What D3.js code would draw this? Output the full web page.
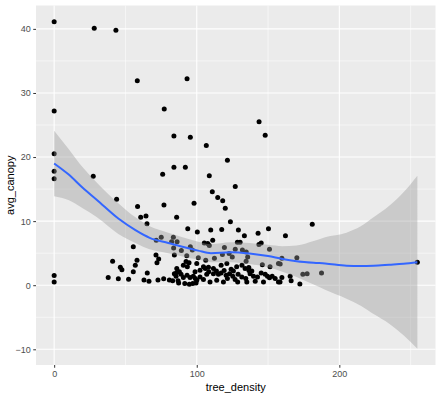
<!DOCTYPE html>
<html>
<head>
<meta charset="utf-8">
<script src="https://cdn.jsdelivr.net/npm/d3@7"></script>
<style>
  body { margin: 0; background: #fff; }
  text { font-family: "Liberation Sans", Arial, sans-serif; }
</style>
</head>
<body>
<svg id="chart" width="441" height="399"></svg>
<script>
// tree_density / avg_canopy points
var treeDensity = [
  0, 28.1, 43.3, 58.3, 0, 0, 0, 0, 27.4, 43.8, 0, 0,
  93.2, 77.2, 84, 95.5, 106.7, 143.7, 148,
  121.5, 76.1, 84, 92, 108.8, 127, 110.9, 114.7, 118.2, 77, 98.1, 120, 58.5, 60.7, 64.4, 65.1,
  85.9, 123.6, 150.3, 93.7, 100.4, 109.8, 117.5, 129.2, 162.2, 111.2, 133.4, 128.5, 130.4, 181, 254.7, 143,
  75.1, 71.6, 83.6, 82.4, 86.2, 83.8, 84.3, 55.5, 71.4, 73.3, 72.1,
  37.9, 41, 45, 46.4, 47.5, 52.2, 55.5, 56.9, 58.1, 63, 65.3, 66.5, 72.8, 76.8, 80.8, 83.1, 84.3, 86, 87.8, 86.9,
  159.7, 158.5, 170.2, 165.5, 166.2, 174.4, 177.4, 187.5, 172.3, 158.4,
  89.2, 95.5, 96.9, 105.3, 107.7, 108.8, 119.4, 122.7, 112.4, 106.3, 101.1, 93, 118,
  145.2, 143.6, 151, 127, 132, 134.7, 135.7, 134.6, 124.9, 146, 151.4, 157.3, 131.7, 136.6,
  89, 85.5, 90.6, 93.2, 95.3, 97.6, 99, 100, 102.3, 104.7, 107, 108.4, 106, 104.7, 108.2, 111.7, 113.8,
  115.2, 117.1, 119.2, 120.6, 123, 125.3, 125.7, 124.1, 126.9, 129, 131.6, 134.4, 135.1, 137.4, 138.6,
  136.5, 139.8, 142.6, 145.2, 148, 149.6, 151, 152.9, 155, 157.3, 159.7, 87.3, 91.6, 94.8, 97.2, 99.5,
  93.4, 94.6, 92.5, 100, 109.3, 114, 118.7, 121.5, 128.7, 141, 146.8, 111.7, 128, 133.9, 117.1, 121.1,
  102.3, 98.8, 86, 90.6
];
var avgCanopy = [
  41.1, 40.1, 39.8, 31.9, 27.2, 20.5, 17.8, 16.6, 17.0, 13.4, 1.5, 0.5,
  32.2, 27.5, 23.3, 23.1, 21.8, 25.5, 23.4,
  19.5, 17.3, 18.4, 18.4, 17.1, 15.4, 14.6, 13.7, 13.2, 12.5, 12.8, 12.0, 12.3, 10.6, 10.8, 9.6,
  10.6, 9.9, 8.8, 8.8, 8.3, 8.6, 8.7, 8.6, 7.7, 7.0, 7.7, 6.7, 6.7, 9.5, 3.6, 8.1,
  7.5, 7.0, 7.5, 6.8, 6.8, 5.8, 4.7, 6.0, 4.7, 4.1, 3.5,
  1.2, 3.75, 1.0, 2.8, 2.4, 0.94, 2.1, 3.1, 3.9, 0.8, 1.9, 0.6, 0.8, 1.0, 0.8, 0.7, 1.8, 2.0, 2.1, 0.7,
  4.2, 3.3, 4.3, 1.4, 0.7, 1.7, 1.8, 1.9, 0.2, 0.5,
  5.4, 6.0, 5.5, 6.6, 6.5, 6.2, 5.9, 4.95, 4.2, 3.9, 4.3, 4.6, 4.8,
  6.6, 6.35, 5.6, 5.6, 5.5, 5.2, 4.4, 3.75, 4.4, 3.2, 2.9, 3.4, 3.1, 2.3,
  1.7, 1.4, 1.2, 1.56, 1.2, 1.4, 1.05, 0.78, 1.3, 0.9, 1.7, 2.1, 2.6, 2.9, 2.8, 2.6, 2.2,
  1.7, 1.9, 2.3, 1.56, 1.8, 1.4, 2.2, 2.5, 0.9, 1.7, 1.3, 1.05, 0.5, 1.8, 2.2,
  2.75, 1.4, 1.3, 1.9, 1.7, 1.4, 1.15, 1.4, 1.05, 0.5, 1.2, 0.35, 0.26, 0.15, 0.26, 0.35,
  2.9, 3.5, 3.7, 3.4, 0.5, 0.78, 0.5, 1.05, 0.5, 0.6, 0.5, 1.8, 2.9, 2.6, 3.1, 3.4,
  2.34, 2.1, 2.6, 3.1
];

// loess smooth and its confidence band
var smoothX = [0, 10, 20, 30, 45, 57, 67, 80, 90, 101, 110, 124, 137, 150, 160, 170, 182, 190, 205, 215, 224, 235, 245, 254.7];
var smoothY = [19.0, 17.3, 15.2, 13.3, 10.4, 8.6, 7.4, 6.6, 6.0, 5.4, 5.0, 5.15, 4.95, 4.55, 4.1, 3.75, 3.5, 3.4, 3.05, 3.0, 3.05, 3.2, 3.35, 3.6];
var smoothLo = [13.9, 13.3, 12.0, 10.6, 8.0, 6.6, 5.6, 5.0, 4.5, 4.0, 3.6, 3.6, 3.3, 2.8, 2.1, 1.3, 0.1, -0.7, -2.1, -3.2, -4.5, -6.0, -7.8, -9.9];
var smoothHi = [24.1, 21.3, 18.4, 16.0, 12.8, 10.6, 9.2, 8.2, 7.5, 6.8, 6.4, 6.7, 6.6, 6.3, 6.1, 6.2, 6.9, 7.5, 8.2, 9.2, 10.6, 12.4, 14.5, 17.1];

var xBreaks = [0, 100, 200];
var xMinor = [50, 150, 250];
var yBreaks = [-10, 0, 10, 20, 30, 40];
var yMinor = [-5, 5, 15, 25, 35];

var svg = d3.select("#chart"),
    pLeft = 36, pRight = 435.5, pTop = 5.5, pBottom = 365;

function expand(lo, hi) {
    var pad = (hi - lo) * 0.05;
    return [lo - pad, hi + pad];
}

var x = d3.scaleLinear()
    .domain(expand(d3.min(treeDensity), d3.max(treeDensity)))
    .range([pLeft, pRight]);
var y = d3.scaleLinear()
    .domain(expand(d3.min(smoothLo.concat(avgCanopy)), d3.max(smoothHi.concat(avgCanopy))))
    .range([pBottom, pTop]);

svg.append("rect")
    .attr("x", pLeft).attr("y", pTop)
    .attr("width", pRight - pLeft).attr("height", pBottom - pTop)
    .attr("fill", "#EBEBEB");

// grid
var grid = svg.append("g").attr("stroke", "#fff");
grid.selectAll(".xm").data(xMinor.filter(function(v) { return x(v) < pRight; })).enter().append("line")
    .attr("x1", x).attr("x2", x).attr("y1", pTop).attr("y2", pBottom).attr("stroke-width", 0.55);
grid.selectAll(".ym").data(yMinor).enter().append("line")
    .attr("y1", y).attr("y2", y).attr("x1", pLeft).attr("x2", pRight).attr("stroke-width", 0.55);
grid.selectAll(".xM").data(xBreaks).enter().append("line")
    .attr("x1", x).attr("x2", x).attr("y1", pTop).attr("y2", pBottom).attr("stroke-width", 1.1);
grid.selectAll(".yM").data(yBreaks).enter().append("line")
    .attr("y1", y).attr("y2", y).attr("x1", pLeft).attr("x2", pRight).attr("stroke-width", 1.1);

// points
svg.append("g").selectAll("circle")
    .data(treeDensity)
    .enter().append("circle")
    .attr("cx", function(d) { return x(d); })
    .attr("cy", function(d, i) { return y(avgCanopy[i]); })
    .attr("r", 2.5)
    .attr("fill", "#000");

// smooth band + line
var band = d3.area()
    .x(function(d, i) { return x(smoothX[i]); })
    .y0(function(d, i) { return y(smoothLo[i]); })
    .y1(function(d, i) { return y(smoothHi[i]); })
    .curve(d3.curveMonotoneX);
svg.append("path")
    .attr("d", band(smoothX))
    .attr("fill", "#999999")
    .attr("fill-opacity", 0.4);

var line = d3.line()
    .x(function(d, i) { return x(smoothX[i]); })
    .y(function(d, i) { return y(smoothY[i]); })
    .curve(d3.curveMonotoneX);
svg.append("path")
    .attr("d", line(smoothX))
    .attr("fill", "none")
    .attr("stroke", "#3366FF")
    .attr("stroke-width", 2);

// axes
var xAxis = svg.append("g")
    .attr("transform", "translate(0," + pBottom + ")")
    .call(d3.axisBottom(x).tickValues(xBreaks).tickSize(2.75).tickPadding(2.5));
var yAxis = svg.append("g")
    .attr("transform", "translate(" + pLeft + ",0)")
    .call(d3.axisLeft(y).tickValues(yBreaks).tickSize(2.75).tickPadding(2.5));
[xAxis, yAxis].forEach(function(a) {
    a.select(".domain").remove();
    a.selectAll(".tick line").attr("stroke", "#333333").attr("stroke-width", 1);
    a.selectAll(".tick text").attr("fill", "#4D4D4D").style("font-size", "9px");
});

svg.append("text")
    .attr("x", (pLeft + pRight) / 2).attr("y", 391)
    .attr("text-anchor", "middle")
    .style("font-size", "11px")
    .text("tree_density");
svg.append("text")
    .attr("transform", "translate(14," + (pTop + pBottom) / 2 + ") rotate(-90)")
    .attr("text-anchor", "middle")
    .style("font-size", "11px")
    .text("avg_canopy");
</script>
</body>
</html>
